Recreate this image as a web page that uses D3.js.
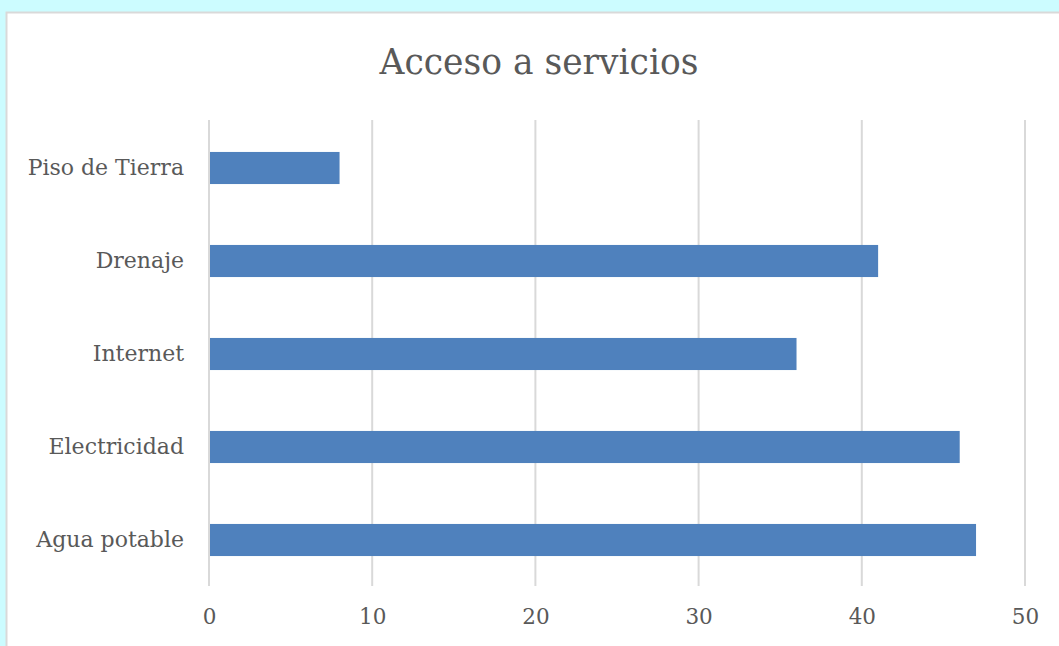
<!DOCTYPE html>
<html>
<head>
<meta charset="utf-8">
<script src="https://cdn.jsdelivr.net/npm/d3@7"></script>
<style>
  html, body { margin: 0; padding: 0; background: #ccfcff; }
  #viz { width: 1059px; height: 646px; overflow: hidden; }
  text { font-family: "DejaVu Serif", "Liberation Serif", serif; fill: #595959; }
</style>
</head>
<body>
<div id="viz"></div>
<script>
const categories = ["Piso de Tierra", "Drenaje", "Internet", "Electricidad", "Agua potable"];
const values = [8, 41, 36, 46, 47];
const xTicks = [0, 10, 20, 30, 40, 50];
const title = "Acceso a servicios";

const W = 1059, H = 646;
const FONT = "'DejaVu Serif', 'Liberation Serif', serif";
const svg = d3.select("#viz").append("svg").attr("width", W).attr("height", H);

// chart card
svg.append("rect")
  .attr("x", 6.5).attr("y", 12.5)
  .attr("width", W + 10).attr("height", H + 10)
  .attr("fill", "#fff").attr("stroke", "#d9d9d9").attr("stroke-width", 2);

const x = d3.scaleLinear().domain([0, 50]).range([209, 1025]);
const y = d3.scaleBand().domain(categories).range([121.5, 586.5]).paddingInner(0.655).paddingOuter(0.3275);

svg.append("text")
  .attr("x", 539).attr("y", 74)
  .attr("text-anchor", "middle")
  .style("font-size", "34.5px")
  .style("font-family", FONT)
  .text(title);

// grid
svg.append("g").selectAll("line").data(xTicks).join("line")
  .attr("x1", d => x(d)).attr("x2", d => x(d))
  .attr("y1", 120).attr("y2", 586)
  .attr("stroke", "#d9d9d9").attr("stroke-width", 2);

// bars
svg.append("g").selectAll("rect").data(values).join("rect")
  .attr("x", x(0) + 1)
  .attr("y", (d, i) => y(categories[i]))
  .attr("width", d => x(d) - x(0) - 1)
  .attr("height", y.bandwidth())
  .attr("fill", "#4f81bd");

// x labels
const xAxis = svg.append("g").attr("transform", "translate(0,586)")
  .call(d3.axisBottom(x).tickValues(xTicks).tickSize(0).tickPadding(23));
xAxis.select(".domain").remove();
xAxis.selectAll("text").style("font-size", "21.5px").attr("fill", "#595959")
  .style("font-family", FONT);

// y labels
const yAxis = svg.append("g").attr("transform", "translate(184,0)")
  .call(d3.axisLeft(y).tickSize(0).tickPadding(0));
yAxis.select(".domain").remove();
yAxis.selectAll("text").style("font-size", "22px").attr("fill", "#595959")
  .style("font-family", FONT);
</script>
</body>
</html>
